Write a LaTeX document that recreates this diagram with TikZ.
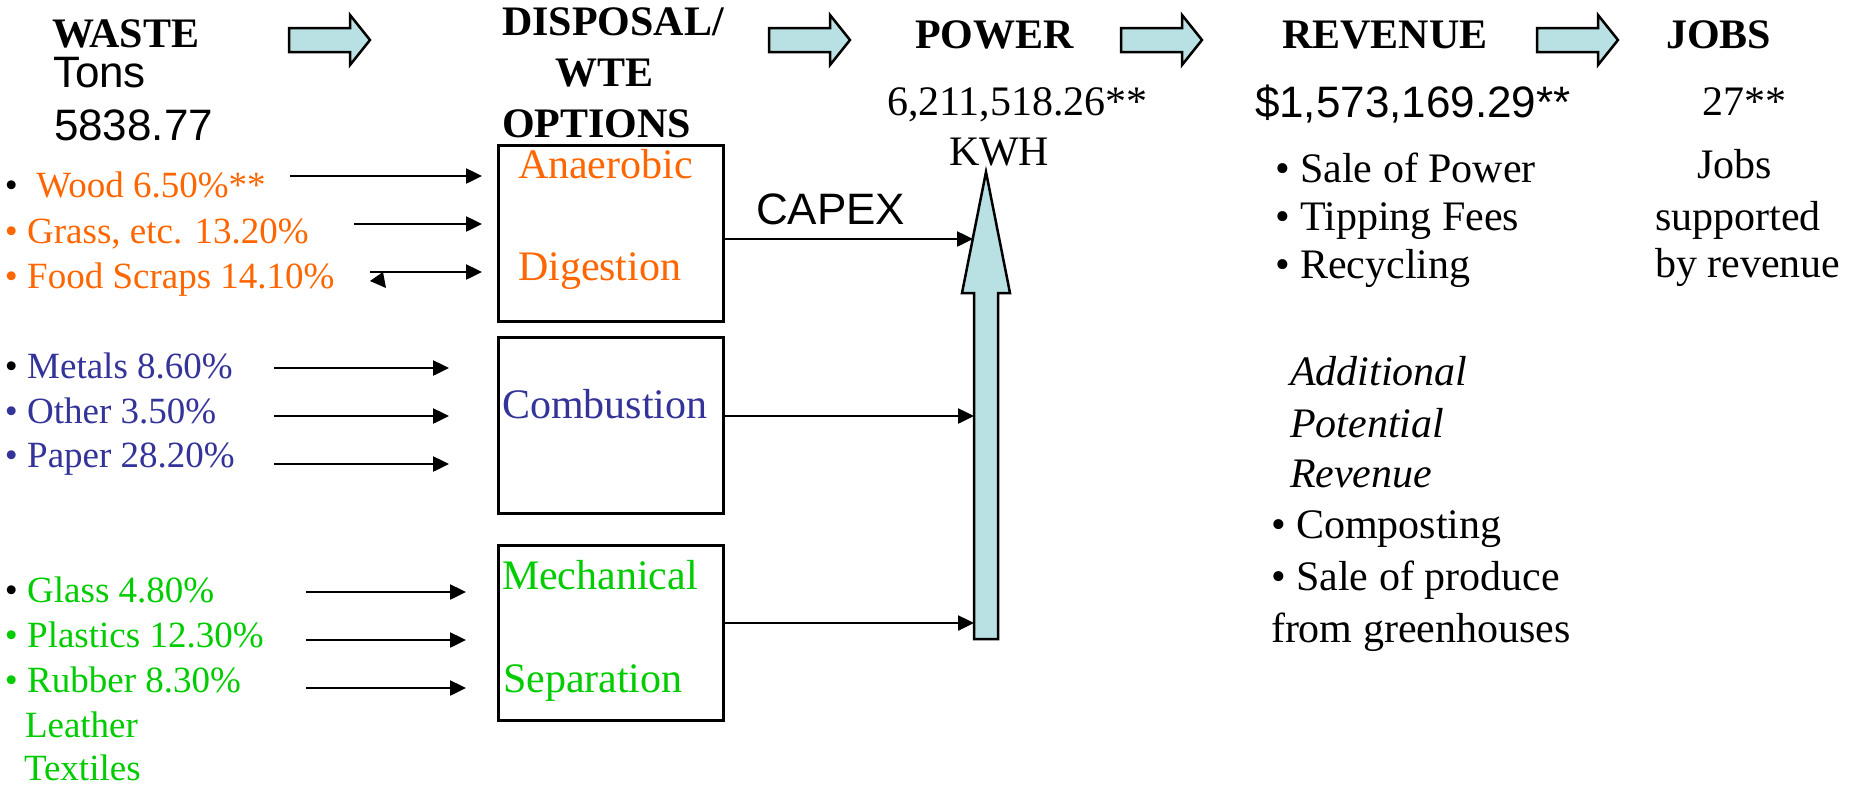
\documentclass[tikz,border=0pt]{standalone}
\usepackage{fontspec}
\setmainfont{Liberation Serif}
\newfontfamily\arialf{Liberation Sans}
\usetikzlibrary{arrows.meta}
\definecolor{worange}{RGB}{255,102,0}
\definecolor{wblue}{RGB}{51,51,153}
\definecolor{wgreen}{RGB}{0,204,0}
\definecolor{afill}{RGB}{185,224,227}
\tikzset{
 txt/.style={anchor=base west, inner sep=0pt, outer sep=0pt},
 hd/.style={txt, font=\fontsize{42}{50}\selectfont\bfseries},
 tr/.style={txt, font=\fontsize{42}{50}\selectfont},
 ar/.style={txt, font=\fontsize{44}{52}\selectfont\arialf},
 li/.style={txt, font=\fontsize{37}{44}\selectfont},
 it/.style={txt, font=\fontsize{42}{50}\selectfont\itshape},
 box/.style={draw, line width=3pt, inner sep=0pt, anchor=north west, minimum width=225pt},
 conn/.style={line width=2.5pt, -{Triangle[length=16pt,width=15pt]}},
 blk/.style={draw, line width=2.5pt, fill=afill, line join=miter},
}
\newcommand\blockarrowat[1]{%
 \draw[blk] (#1,28) -- ({#1+61},28) -- ({#1+61},15) -- ({#1+81},40) -- ({#1+61},65) -- ({#1+61},52) -- (#1,52) -- cycle;}
\begin{document}
\begin{tikzpicture}[x=1pt,y=-1pt]
\useasboundingbox (0,0) rectangle (1858,785);
\fill[white] (0,0) rectangle (1858,785);
% headers
\node[hd, text depth=0pt] (waste) at (52,47) {WASTE};
\node[ar] (tons) at (53,87) {Tons};
\node[ar] (tonsv) at (54,140) {5838.77};
\node[hd] (disp1) at (502,35) {DISPOSAL/};
\node[hd] (disp2) at (555,86) {WTE};
\node[hd] (disp3) at (502,137) {OPTIONS};
\node[hd] (power) at (915,48) {POWER};
\node[tr] (powerv) at (887,115) {6,211,518.26**};
\node[tr] (kwh) at (949,165) {KWH};
\node[hd] (rev) at (1282,48) {REVENUE};
\node[ar] (revv) at (1255,117) {\$1,573,169.29**};
\node[hd] (jobs) at (1666,48) {JOBS};
\node[tr] (jobsv) at (1702,115) {27**};
\node[tr] (jobs1) at (1697,178) {Jobs};
\node[tr] (jobs2) at (1655,230) {supported};
\node[tr] (jobs3) at (1655,277) {by revenue};
% block arrows
\blockarrowat{289}
\blockarrowat{769}
\blockarrowat{1121}
\blockarrowat{1537}
% revenue items
\node[tr] (r1) at (1275,182) {• Sale of Power};
\node[tr] (r2) at (1275,230) {• Tipping Fees};
\node[tr] (r3) at (1275,278) {• Recycling};
\node[it] (a1) at (1290,385) {Additional};
\node[it] (a2) at (1290,437) {Potential};
\node[it] (a3) at (1290,487) {Revenue};
\node[tr] (r4) at (1271,538) {• Composting};
\node[tr] (r5) at (1271,590) {• Sale of produce};
\node[tr] (r6) at (1271,642) {from greenhouses};
% left lists
\node[li] (wood) at (5,197) {•\ \ \textcolor{worange}{Wood 6.50\%**}};
\node[li, text=worange] (grass) at (5,243) {• Grass, etc. 13.20\%};
\node[li, text=worange] (food) at (5,288) {• Food Scraps 14.10\%};
\node[li] (metal) at (5,378) {• \textcolor{wblue}{Metals 8.60\%}};
\node[li, text=wblue] (other) at (5,423) {• Other 3.50\%};
\node[li, text=wblue] (paper) at (5,467) {• Paper 28.20\%};
\node[li] (glass) at (5,602) {• \textcolor{wgreen}{Glass 4.80\%}};
\node[li, text=wgreen] (plast) at (5,647) {• Plastics 12.30\%};
\node[li, text=wgreen] (rubb) at (5,692) {• Rubber 8.30\%};
\node[li, text=wgreen] (leath) at (25,737) {Leather};
\node[li, text=wgreen] (text) at (24,780) {Textiles};
% boxes
\node[box, minimum height=176pt] (ad) at (497,144) {};
\node[box, minimum height=176pt] (cb) at (497,336) {};
\node[box, minimum height=175pt] (ms) at (497,544) {};
\node[tr, text=worange] at (518,178) {Anaerobic};
\node[tr, text=worange] at (518,280) {Digestion};
\node[tr, text=wblue] at (502,418) {Combustion};
\node[tr, text=wgreen] at (502,589) {Mechanical};
\node[tr, text=wgreen] at (503,692) {Separation};
% input arrows
\coordinate (w0) at (290,176); \coordinate (w1) at (482,176);
\coordinate (g0) at (354,224); \coordinate (g1) at (482,224);
\coordinate (f0) at (370,272); \coordinate (f1) at (482,272);
\coordinate (m0) at (274,368); \coordinate (m1) at (449,368);
\coordinate (o0) at (274,416); \coordinate (o1) at (449,416);
\coordinate (p0) at (274,464); \coordinate (p1) at (449,464);
\coordinate (gl0) at (306,592); \coordinate (gl1) at (466,592);
\coordinate (pl0) at (306,640); \coordinate (pl1) at (466,640);
\coordinate (rb0) at (306,688); \coordinate (rb1) at (466,688);
\foreach \s/\e in {w0/w1,g0/g1,f0/f1,m0/m1,o0/o1,p0/p1,gl0/gl1,pl0/pl1,rb0/rb1}
  \draw[conn] (\s) -- (\e);
\fill (370,281) -- (383,272) -- (386,288) -- cycle;
% big vertical arrow
\draw[blk] (974,639) -- (974,293) -- (962,293) -- (986,172) -- (1010,293) -- (998,293) -- (998,639) -- cycle;
\coordinate (pin1) at (973,239);
\coordinate (pin2) at (974,416);
\coordinate (pin3) at (974,623);
\draw[conn] (ad.east |- pin1) -- (pin1);
\draw[conn] (cb.east |- pin2) -- (pin2);
\draw[conn] (ms.east |- pin3) -- (pin3);
\node[ar] (capex) at (756,224) {CAPEX};
\end{tikzpicture}
\end{document}
